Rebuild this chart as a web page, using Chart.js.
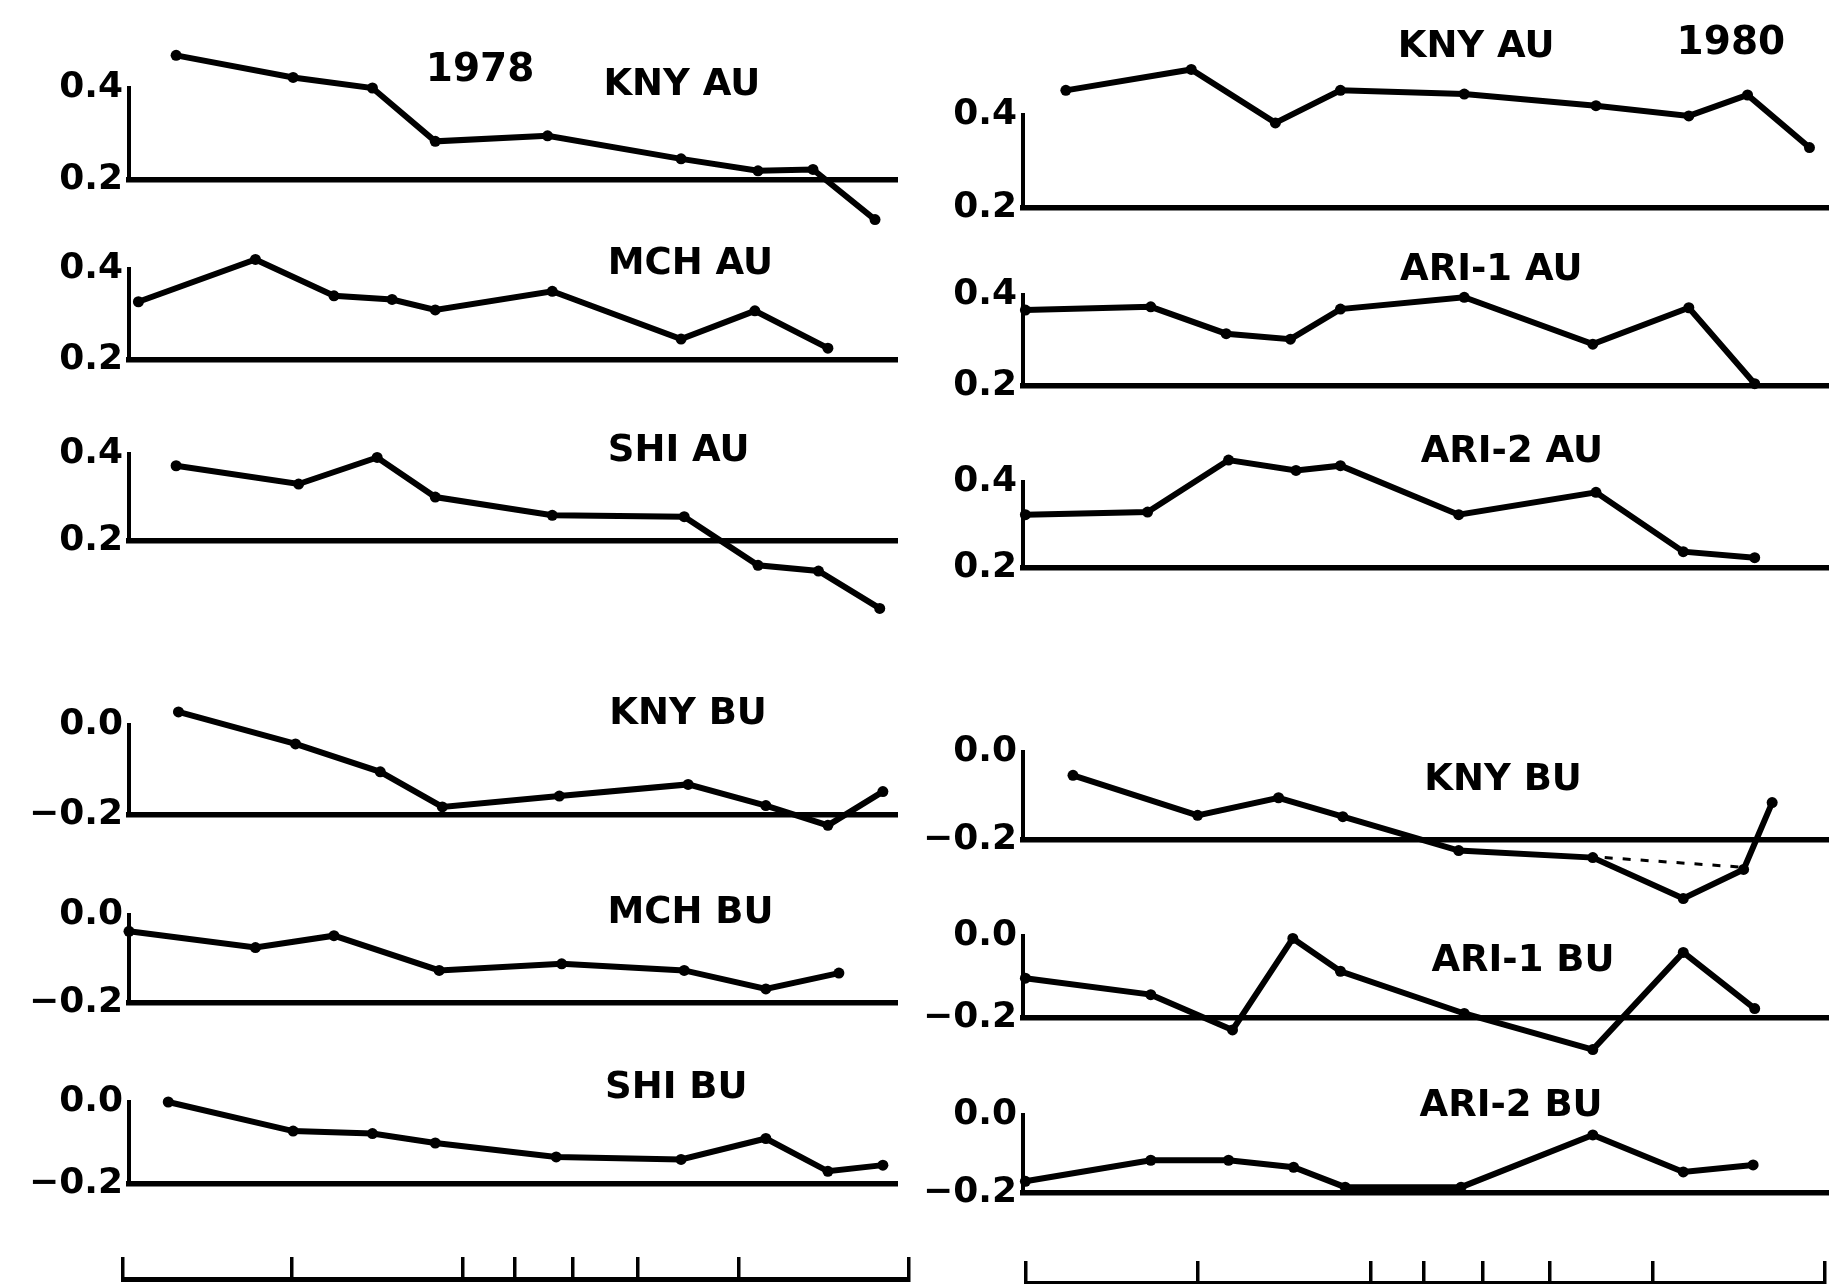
<!DOCTYPE html>
<html>
<head>
<meta charset="utf-8">
<script src="https://cdn.jsdelivr.net/npm/chart.js@4.4.0/dist/chart.umd.min.js"></script>
<style>
  html, body { margin: 0; padding: 0; background: #fff; }
  #page { position: relative; width: 1834px; height: 1284px; overflow: hidden; background: #fff; }
  #page canvas { position: absolute; }
</style>
</head>
<body>
<div id="page"></div>
<script>
// sampling dates on a 0-100 day scale, same scale as the tick rows at the bottom
const tickDays = [0, 21.5, 43.2, 49.8, 57.2, 65.5, 78.4, 100];

// 1978 (left column)
const kny78AuDays = [6.7, 21.6, 31.7, 39.7, 54.0, 71.0, 80.8, 87.8, 95.7];
const kny78AuValues = [0.471, 0.423, 0.400, 0.284, 0.296, 0.246, 0.220, 0.223, 0.114];
const mch78AuDays = [1.9, 16.8, 26.8, 34.2, 39.7, 54.6, 71.0, 80.4, 89.7];
const mch78AuValues = [0.328, 0.421, 0.341, 0.333, 0.310, 0.351, 0.246, 0.308, 0.226];
const shi78AuDays = [6.7, 22.3, 32.3, 39.7, 54.6, 71.4, 80.8, 88.5, 96.3];
const shi78AuValues = [0.373, 0.331, 0.392, 0.301, 0.259, 0.256, 0.144, 0.131, 0.045];
const kny78BuDays = [7.0, 21.9, 32.7, 40.6, 55.5, 71.9, 81.8, 89.7, 96.7];
const kny78BuValues = [0.029, -0.042, -0.104, -0.182, -0.158, -0.132, -0.179, -0.223, -0.148];
const mch78BuDays = [0.7, 16.8, 26.8, 40.2, 55.8, 71.4, 81.8, 91.1];
const mch78BuValues = [-0.037, -0.074, -0.047, -0.126, -0.111, -0.126, -0.168, -0.132];
const shi78BuDays = [5.7, 21.6, 31.7, 39.7, 55.1, 71.0, 81.8, 89.7, 96.7];
const shi78BuValues = [0.0, -0.071, -0.077, -0.100, -0.134, -0.140, -0.089, -0.169, -0.154];

// 1980 (right column)
const kny80AuDays = [5.1, 20.9, 31.5, 39.7, 55.3, 71.9, 83.6, 91.0, 98.8];
const kny80AuValues = [0.453, 0.498, 0.383, 0.453, 0.445, 0.420, 0.398, 0.443, 0.330];
const ari1AuDays = [0, 15.8, 25.3, 33.4, 39.7, 55.3, 71.5, 83.6, 91.9];
const ari1AuValues = [0.367, 0.374, 0.315, 0.303, 0.369, 0.395, 0.292, 0.372, 0.205];
const ari2AuDays = [0, 15.4, 25.6, 34.1, 39.7, 54.6, 71.9, 82.9, 91.9];
const ari2AuValues = [0.324, 0.330, 0.451, 0.427, 0.438, 0.324, 0.376, 0.238, 0.224];
const kny80BuDays = [6.0, 21.7, 31.9, 40.0, 54.6, 71.5, 82.9, 90.5, 94.1];
const kny80BuValues = [-0.053, -0.144, -0.104, -0.147, -0.224, -0.240, -0.333, -0.267, -0.115];
const kny80BuAltDays = [73.0, 90.5];   // dashed alternative segment
const kny80BuAltValues = [-0.240, -0.262];
const ari1BuDays = [0, 15.8, 26.1, 33.7, 39.7, 55.3, 71.5, 82.9, 91.9];
const ari1BuValues = [-0.103, -0.143, -0.229, -0.006, -0.086, -0.189, -0.277, -0.040, -0.177];
const ari2BuDays = [0, 15.8, 25.6, 33.8, 40.3, 54.9, 71.5, 82.9, 91.7];
const ari2BuValues = [-0.170, -0.116, -0.116, -0.134, -0.185, -0.185, -0.051, -0.146, -0.128];

const FONT = '"DejaVu Sans", "Liberation Sans", sans-serif';
const LINE_W = 6;
const DOT_R = 5.5;

// column geometry (page px)
const columns = {
  left:  { left: 0,   width: 917, axisWidth: 129, padRight: 20, xMin: 0.7,  xMax: 98.5 },
  right: { left: 917, width: 917, axisWidth: 106, padRight: 0,  xMin: -0.3, xMax: 101.2 }
};

const panels = [
  { col: 'left', top: 88, bottom: 180, yMin: 0.2, yMax: 0.4, days: kny78AuDays, values: kny78AuValues,
    labels: [{ text: 'KNY AU', x: 71.1, y: 0.405, size: 37 }, { text: '1978', x: 45.4, y: 0.438, size: 39 }] },
  { col: 'left', top: 269, bottom: 360, yMin: 0.2, yMax: 0.4, days: mch78AuDays, values: mch78AuValues,
    labels: [{ text: 'MCH AU', x: 72.2, y: 0.410, size: 37 }] },
  { col: 'left', top: 454, bottom: 541, yMin: 0.2, yMax: 0.4, days: shi78AuDays, values: shi78AuValues,
    labels: [{ text: 'SHI AU', x: 70.7, y: 0.405, size: 37 }] },
  { col: 'left', top: 725, bottom: 815, yMin: -0.2, yMax: 0.0, days: kny78BuDays, values: kny78BuValues,
    labels: [{ text: 'KNY BU', x: 71.9, y: 0.024, size: 37 }] },
  { col: 'left', top: 915, bottom: 1003, yMin: -0.2, yMax: 0.0, days: mch78BuDays, values: mch78BuValues,
    labels: [{ text: 'MCH BU', x: 72.2, y: 0.003, size: 37 }] },
  { col: 'left', top: 1102, bottom: 1184, yMin: -0.2, yMax: 0.0, days: shi78BuDays, values: shi78BuValues,
    labels: [{ text: 'SHI BU', x: 70.4, y: 0.034, size: 37 }] },

  { col: 'right', top: 115, bottom: 208, yMin: 0.2, yMax: 0.4, days: kny80AuDays, values: kny80AuValues,
    labels: [{ text: 'KNY AU', x: 56.8, y: 0.545, size: 37 }, { text: '1980', x: 88.9, y: 0.553, size: 39 }] },
  { col: 'right', top: 295, bottom: 386, yMin: 0.2, yMax: 0.4, days: ari1AuDays, values: ari1AuValues,
    labels: [{ text: 'ARI-1 AU', x: 58.7, y: 0.454, size: 37 }] },
  { col: 'right', top: 482, bottom: 568, yMin: 0.2, yMax: 0.4, days: ari2AuDays, values: ari2AuValues,
    labels: [{ text: 'ARI-2 AU', x: 61.3, y: 0.470, size: 37 }] },
  { col: 'right', top: 752, bottom: 840, yMin: -0.2, yMax: 0.0, days: kny80BuDays, values: kny80BuValues,
    altDays: kny80BuAltDays, altValues: kny80BuAltValues,
    labels: [{ text: 'KNY BU', x: 60.2, y: -0.064, size: 37 }] },
  { col: 'right', top: 936, bottom: 1018, yMin: -0.2, yMax: 0.0, days: ari1BuDays, values: ari1BuValues,
    labels: [{ text: 'ARI-1 BU', x: 62.7, y: -0.063, size: 37 }] },
  { col: 'right', top: 1115, bottom: 1193, yMin: -0.2, yMax: 0.0, days: ari2BuDays, values: ari2BuValues,
    labels: [{ text: 'ARI-2 BU', x: 61.2, y: 0.021, size: 37 }] }
];

const page = document.getElementById('page');

// draws panel names / years at data coordinates
function textPlugin(items) {
  return {
    id: 'panelText',
    afterDatasetsDraw(chart) {
      const { ctx, scales: { x, y } } = chart;
      ctx.save();
      ctx.fillStyle = '#000';
      ctx.textAlign = 'center';
      ctx.textBaseline = 'middle';
      items.forEach(it => {
        ctx.font = 'bold ' + it.size + 'px ' + FONT;
        ctx.fillText(it.text, x.getPixelForValue(it.x), y.getPixelForValue(it.y));
      });
      ctx.restore();
    }
  };
}

// Chart.js skips point markers that fall outside the chart area;
// the panels have values above/below the axis range, so draw those ones here
const outerPoints = {
  id: 'outerPoints',
  afterDatasetsDraw(chart) {
    const { ctx, chartArea: a } = chart;
    ctx.save();
    ctx.fillStyle = '#000';
    chart.data.datasets.forEach((ds, i) => {
      if (!ds.pointRadius) return;
      chart.getDatasetMeta(i).data.forEach(pt => {
        const inside = pt.x >= a.left - 0.5 && pt.x <= a.right + 0.5 && pt.y >= a.top - 0.5 && pt.y <= a.bottom + 0.5;
        if (inside) return;
        ctx.beginPath();
        ctx.arc(pt.x, pt.y, ds.pointRadius, 0, Math.PI * 2);
        ctx.fill();
      });
    });
    ctx.restore();
  }
};

function addCanvas(left, top, width, height) {
  const c = document.createElement('canvas');
  c.width = width;
  c.height = height;
  c.style.left = left + 'px';
  c.style.top = top + 'px';
  page.appendChild(c);
  return c;
}

function makePanel(p) {
  const col = columns[p.col];
  const padTop = 100, padBottom = 100;
  const height = (p.bottom - p.top) + padTop + padBottom;
  const canvas = addCanvas(col.left, p.top - padTop, col.width, height);

  const datasets = [{
    data: p.days.map((d, i) => ({ x: d, y: p.values[i] })),
    borderColor: '#000',
    borderWidth: LINE_W,
    pointRadius: DOT_R,
    pointBackgroundColor: '#000',
    pointBorderWidth: 0,
    tension: 0,
    clip: false
  }];
  if (p.altDays) {
    datasets.push({
      data: p.altDays.map((d, i) => ({ x: d, y: p.altValues[i] })),
      borderColor: '#000',
      borderWidth: 3,
      borderDash: [8, 10],
      pointRadius: 0,
      tension: 0,
      clip: false
    });
  }

  new Chart(canvas, {
    type: 'line',
    data: { datasets: datasets },
    options: {
      responsive: false,
      animation: false,
      events: [],
      layout: { padding: { top: padTop, bottom: padBottom, left: 0, right: col.padRight } },
      plugins: { legend: { display: false }, tooltip: { enabled: false } },
      scales: {
        x: {
          type: 'linear',
          min: col.xMin,
          max: col.xMax,
          ticks: { display: false },
          grid: { display: false, drawTicks: false },
          border: { display: true, color: '#000', width: 5.5 },
          afterFit: s => { s.height = 0; }
        },
        y: {
          min: p.yMin,
          max: p.yMax,
          afterBuildTicks: s => { s.ticks = [{ value: p.yMin }, { value: p.yMax }]; },
          ticks: {
            color: '#000',
            font: { family: FONT, weight: 'bold', size: 36 },
            padding: 6,
            // the print uses a long minus dash
            callback: v => (v < 0 ? '\u2212' : '') + Math.abs(v).toFixed(1)
          },
          grid: { display: false, drawTicks: false },
          border: { display: true, color: '#000', width: 4 },
          afterFit: s => { s.width = col.axisWidth; }
        }
      }
    },
    plugins: [outerPoints, textPlugin(p.labels)]
  });
}

// tick row with the sampling dates under each column
function makeTickRow(left, top, padLeft, padRight) {
  const canvas = addCanvas(left, top, 917, 44);
  new Chart(canvas, {
    type: 'line',
    data: { datasets: [] },
    options: {
      responsive: false,
      animation: false,
      events: [],
      layout: { padding: { top: 17, bottom: 5, left: padLeft, right: padRight } },
      plugins: { legend: { display: false }, tooltip: { enabled: false } },
      scales: {
        x: {
          type: 'linear',
          min: 0,
          max: 100,
          afterBuildTicks: s => { s.ticks = tickDays.map(v => ({ value: v })); },
          ticks: { display: false },
          grid: { display: true, drawOnChartArea: true, drawTicks: false, color: '#000', lineWidth: 3.5 },
          border: { display: true, color: '#000', width: 5 },
          afterFit: s => { s.height = 0; }
        },
        y: { display: false, min: 0, max: 1 }
      }
    }
  });
}

panels.forEach(makePanel);
makeTickRow(0, 1240, 123, 8);
makeTickRow(917, 1244, 109, 9);
</script>
</body>
</html>
